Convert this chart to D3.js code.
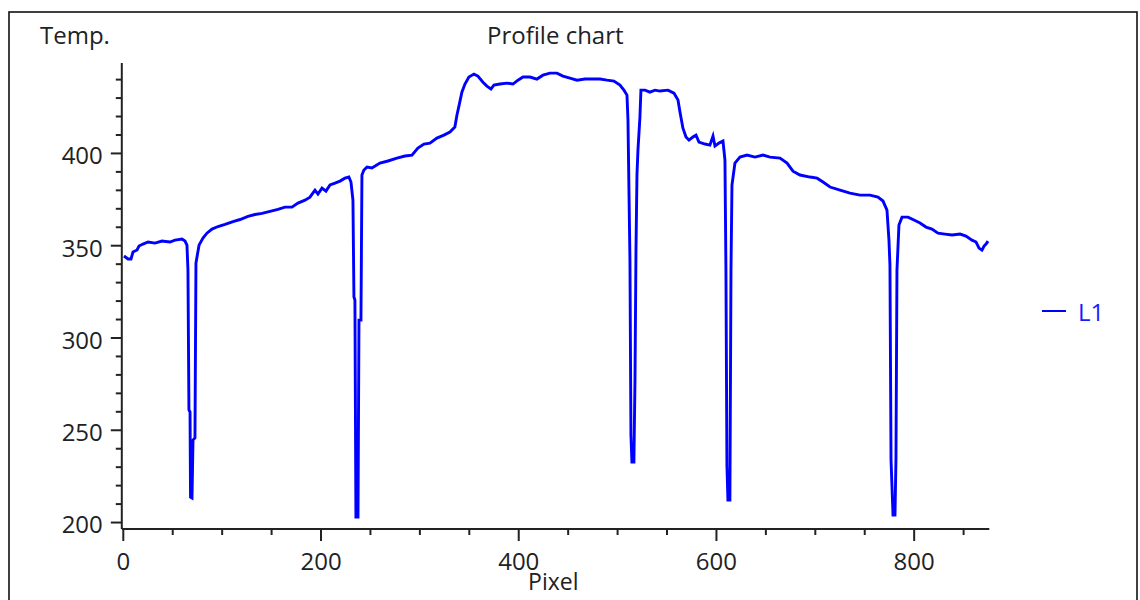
<!DOCTYPE html>
<html>
<head>
<meta charset="utf-8">
<script src="https://cdn.jsdelivr.net/npm/d3@7"></script>
<style>
  body { margin: 0; background: #fff; }
  text { font-family: "Open Sans", "DejaVu Sans", sans-serif; }
</style>
</head>
<body>
<div id="chart"></div>
<script>
// profile data (pixel position -> temperature)
const pixelX = [
  0.7, 4.8, 7.8, 9.8, 13.9, 15.9, 19.9, 25.0, 32.1, 39.1, 47.2, 52.3, 59.4, 62.4, 64.4,
  65.4, 66.4, 67.5, 68.0, 69.5, 70.5, 72.5, 73.5, 76.6, 80.6, 84.6, 89.7, 95.8, 102.9, 111.0,
  118.1, 126.1, 133.2, 140.3, 148.4, 156.4, 163.5, 170.6, 176.7, 183.8, 188.8, 193.9, 196.9, 201.0,
  205.0, 209.1, 214.1, 219.2, 224.2, 228.2, 230.3, 232.3, 233.3, 234.3, 235.3, 237.4, 238.4, 240.4,
  241.4, 243.4, 246.5,
  251.5, 259.6, 267.7, 276.8, 284.9, 292.0, 298.0, 304.1, 310.2, 317.2, 324.3, 330.4, 335.4, 337.5,
  339.5, 342.5, 345.6, 349.6, 354.7, 358.7, 363.8, 367.8, 371.9, 374.9, 381.0, 388.1, 394.2, 399.2,
  404.3, 411.4, 418.4, 424.5, 431.6, 438.7, 444.7, 451.8, 458.9, 467.0, 474.1, 482.2, 489.3, 496.3,
  502.4, 506.4, 509.5, 510.5, 511.5, 512.5, 513.5, 514.5, 516.5, 517.6, 518.6, 519.6, 520.6, 522.6,
  523.6, 527.7, 532.7, 537.8, 542.9, 551.0, 557.0, 561.1, 563.1, 566.1, 569.2, 572.2, 576.2, 579.3,
  582.3, 588.4, 593.4, 596.5, 598.5, 602.5, 606.6, 608.6, 609.6, 610.6, 611.6, 613.6, 614.7, 615.7,
  618.7, 623.8, 630.9, 639.0, 647.1, 654.2, 664.3, 671.4, 677.4, 684.5, 694.7, 701.8, 707.8, 714.9,
  725.0, 735.1, 745.2, 755.3, 763.4, 768.5, 772.5, 774.5, 775.5, 776.6, 778.6, 780.6, 781.6, 782.6,
  784.6, 787.7, 793.8, 799.8, 805.9, 812.0, 818.0, 824.1, 831.2, 838.3, 846.4, 852.4, 858.5, 862.6,
  865.6, 868.6, 870.7, 872.7, 874.7
];
const tempL1 = [
  344.4, 342.8, 342.8, 346.6, 347.7, 349.8, 350.9, 352.0, 351.4, 352.5, 352.0, 353.0, 353.6, 352.5, 350.3,
  336.8, 261.0, 259.9, 213.8, 213.3, 244.7, 245.8, 340.6, 350.3, 354.1, 356.8, 359.0, 360.4, 361.5, 363.1,
  364.2, 365.9, 366.9, 367.5, 368.6, 369.7, 370.9, 370.9, 373.1, 374.7, 376.3, 380.1, 378.0, 381.2,
  379.6, 382.9, 383.9, 385.0, 386.6, 387.2, 384.5, 374.7, 322.2, 320.6, 203.0, 203.0, 309.7, 309.7,
  388.3, 391.0, 392.6,
  392.1, 394.8, 395.9, 397.5, 398.6, 399.1, 402.9, 405.1, 405.6, 408.3, 409.9, 411.6, 414.3, 420.8,
  425.6, 433.2, 437.6, 441.4, 443.0, 441.9, 438.6, 436.5, 434.9, 437.0, 437.6, 438.1, 437.6, 439.7,
  441.4, 441.4, 440.3, 442.4, 443.5, 443.5, 441.9, 440.8, 439.7, 440.3, 440.3, 440.3, 439.7, 439.2,
  437.0, 434.3, 431.6, 418.1, 380.1, 342.2, 247.4, 232.8, 232.8, 277.2, 347.6, 388.3, 401.8, 419.7,
  434.3, 434.3, 433.2, 434.3, 433.8, 434.3, 432.7, 428.9, 422.4, 413.7, 408.9, 407.2, 408.9, 409.9,
  406.1, 405.1, 404.5, 409.4, 404.0, 405.6, 406.7, 396.4, 336.8, 231.2, 212.2, 212.2, 336.8, 382.8,
  394.8, 398.0, 399.1, 398.0, 399.1, 398.0, 397.5, 394.8, 390.4, 388.3, 387.2, 386.6, 384.5, 381.8,
  380.1, 378.5, 377.4, 377.4, 376.3, 374.2, 369.3, 353.0, 339.5, 233.9, 204.1, 204.1, 235.0, 336.8,
  361.2, 365.5, 365.5, 363.9, 362.3, 360.1, 359.0, 356.8, 356.3, 355.8, 356.3, 355.2, 353.0, 352.0,
  348.7, 347.6, 349.8, 350.9, 352.5
];

const xMajorTicks = [0, 200, 400, 600, 800];
const xMinorTicks = [50, 100, 150, 250, 300, 350, 450, 500, 550, 650, 700, 750, 850];
const yMajorTicks = [200, 250, 300, 350, 400];
const yMinorTicks = [210, 220, 230, 240, 260, 270, 280, 290, 310, 320, 330, 340,
  360, 370, 380, 390, 410, 420, 430, 440];

const width = 1140;
const height = 600;
const plotLeft = 123.3;
const plotRight = 989.3;
const plotTop = 63;
const plotBottom = 529;
const axisColor = "#222";
const lineColor = "#0000ff";

const svg = d3.select("#chart").append("svg")
  .attr("width", width)
  .attr("height", height)
  .style("display", "block")
  .style("background", "#fff");

// outer frame
svg.append("rect")
  .attr("x", 9).attr("y", 12)
  .attr("width", 1128).attr("height", 620)
  .attr("fill", "none")
  .attr("stroke", "#111")
  .attr("stroke-width", 1.6);

// scales
const x = d3.scaleLinear().domain([0, 876]).range([plotLeft, plotRight]);
const y = d3.scaleLinear().domain([196.5, 449]).range([plotBottom, plotTop]);

// x axis
const xAxis = svg.append("g")
  .attr("transform", `translate(0,${plotBottom})`)
  .call(d3.axisBottom(x).tickValues(xMajorTicks).tickFormat(d3.format("d"))
    .tickSize(12).tickSizeOuter(0).tickPadding(12).offset(0));
xAxis.select(".domain").attr("d", `M${plotLeft - 1.5},0H${plotRight}`);

svg.append("g")
  .attr("transform", `translate(0,${plotBottom})`)
  .call(d3.axisBottom(x).tickValues(xMinorTicks).tickFormat("")
    .tickSize(6).tickSizeOuter(0).offset(0))
  .call(g => g.select(".domain").remove());

// y axis
const yAxis = svg.append("g")
  .attr("transform", `translate(${plotLeft - 1.5},0)`)
  .call(d3.axisLeft(y).tickValues(yMajorTicks).tickFormat(d3.format("d"))
    .tickSize(11).tickSizeOuter(0).tickPadding(8).offset(0));
yAxis.selectAll(".tick text").attr("dy", "0.45em");

svg.append("g")
  .attr("transform", `translate(${plotLeft - 1.5},0)`)
  .call(d3.axisLeft(y).tickValues(yMinorTicks).tickFormat("")
    .tickSize(6).tickSizeOuter(0).offset(0))
  .call(g => g.select(".domain").remove());

svg.selectAll(".domain, .tick line")
  .attr("stroke", axisColor)
  .attr("stroke-width", 2);
svg.selectAll(".tick text")
  .attr("fill", "#222")
  .style("font-size", "24px")
  .style("font-family", "'Open Sans', sans-serif");

// titles
svg.append("text")
  .text("Profile chart")
  .attr("x", (plotLeft + plotRight) / 2 - 1)
  .attr("y", 43.5)
  .attr("text-anchor", "middle")
  .attr("fill", "#222")
  .style("font-size", "24px");

svg.append("text")
  .text("Temp.")
  .attr("x", 40)
  .attr("y", 44)
  .attr("fill", "#222")
  .style("font-size", "24px");

svg.append("text")
  .text("Pixel")
  .attr("x", (plotLeft + plotRight) / 2 - 3)
  .attr("y", 590)
  .attr("text-anchor", "middle")
  .attr("fill", "#222")
  .style("font-size", "23px");

// profile line
const points = pixelX.map((d, i) => [d, tempL1[i]]);

svg.append("path")
  .datum(points)
  .attr("fill", "none")
  .attr("stroke", lineColor)
  .attr("stroke-width", 2.9)
  .attr("stroke-linejoin", "miter")
  .attr("d", d3.line().x(d => x(d[0])).y(d => y(d[1])));

// legend
svg.append("line")
  .attr("x1", 1042).attr("x2", 1066)
  .attr("y1", 311).attr("y2", 311)
  .attr("stroke", lineColor)
  .attr("stroke-width", 2);

svg.append("text")
  .text("L1")
  .attr("x", 1078)
  .attr("y", 320.5)
  .attr("fill", "#1a1aff")
  .style("font-size", "24px");
</script>
</body>
</html>
